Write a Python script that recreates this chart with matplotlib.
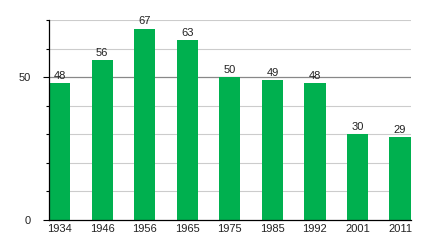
import matplotlib
matplotlib.use("Agg")
import matplotlib.pyplot as plt
from matplotlib.ticker import MultipleLocator

years = ["1934", "1946", "1956", "1965", "1975", "1985", "1992", "2001", "2011"]
values = [48, 56, 67, 63, 50, 49, 48, 30, 29]

plt.rcParams['font.family'] = ['Liberation Sans', 'DejaVu Sans']

fig = plt.figure(figsize=(4.4, 2.4), dpi=100)
ax = fig.add_axes([0.1114, 0.0833, 0.822, 0.8334])

x = list(range(len(years)))
ax.set_ylim(0, 70)
ax.set_xlim(-0.25, len(years) - 0.75)

for v in range(10, 71, 10):
    ax.axhline(v, color="#888888" if v == 50 else "#cccccc", lw=0.9 if v == 50 else 0.8, zorder=0)

bars = ax.bar(x, values, width=0.5, color="#00b04f", zorder=2)
for xi, v in zip(x, values):
    ax.text(xi, v + 0.8, str(v), ha="center", va="bottom", fontsize=8, color="#222222")

ax.set_xticks(x)
ax.set_xticklabels(years, fontsize=8, color="#222222")
ax.tick_params(axis="x", length=0, pad=3)
ax.set_yticks([0, 50])
ax.yaxis.set_minor_locator(MultipleLocator(10))
ax.tick_params(axis="y", which="major", length=4, width=0.8, pad=9, labelsize=8, labelcolor="#222222")
ax.tick_params(axis="y", which="minor", length=2.5, width=0.8)

for s in ["top", "right"]:
    ax.spines[s].set_visible(False)
ax.spines["left"].set_linewidth(0.9)
ax.spines["bottom"].set_linewidth(0.9)

fig.savefig("out.png", dpi=100)
